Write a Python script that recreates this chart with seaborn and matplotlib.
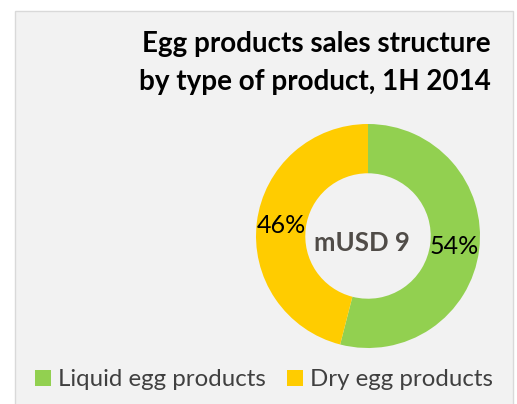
import matplotlib
matplotlib.use("Agg")
import matplotlib.pyplot as plt
from matplotlib.patches import Rectangle, Patch
import seaborn as sns

categories = ["Liquid egg products", "Dry egg products"]
shares = [54, 46]
title_lines = ["Egg products sales structure", "by type of product, 1H 2014"]
center_label = "mUSD 9"

sns.set_theme(style="white")
plt.rcParams["font.family"] = ["Lato", "DejaVu Sans"]

colors = ["#92d050", "#ffcc00"]

W, H = 517, 404
fig = plt.figure(figsize=(W / 100, H / 100), dpi=100)
fig.patch.set_facecolor("white")
fig.add_artist(Rectangle((15 / W, -0.01), (513 - 15) / W, (404 - 11) / H + 0.01,
                         transform=fig.transFigure, facecolor="#f2f2f2",
                         edgecolor="#d9d9d9", lw=1.0, zorder=-10))

cx, cy, r = 368, 236, 112
ax = fig.add_axes([(cx - r) / W, (H - cy - r) / H, 2 * r / W, 2 * r / H])
ax.set_facecolor("none")
ax.set_zorder(5)
wedges, texts, autotexts = ax.pie(
    shares, colors=colors, startangle=90, counterclock=False,
    wedgeprops=dict(width=0.44, edgecolor="none"),
    autopct=lambda p: f"{p:.0f}%", pctdistance=0.78,
    textprops=dict(fontsize=18, color="black"))
ax.set_xlim(-1, 1)
ax.set_ylim(-1, 1)
ax.set_aspect("equal")
ax.axis("off")
ax.text(-0.05, -0.06, center_label, ha="center", va="center", fontsize=18.5,
        fontweight="bold", color="#504c48")

fig.text(491 / W, 1 - 52 / H, title_lines[0], ha="right", va="baseline",
         fontsize=20, fontweight="bold", color="black")
fig.text(491 / W, 1 - 90 / H, title_lines[1], ha="right", va="baseline",
         fontsize=20, fontweight="bold", color="black")

handles = [Patch(facecolor=c, edgecolor="none") for c in colors]
leg = fig.legend(handles, categories, loc="center", bbox_to_anchor=(264 / W, 1 - 380 / H),
                 ncol=2, frameon=False, fontsize=17.3, handlelength=0.65, handleheight=0.65,
                 handletextpad=0.3, columnspacing=0.9, borderaxespad=0)
for t in leg.get_texts():
    t.set_color("#404040")

fig.savefig("out.png", dpi=100)
